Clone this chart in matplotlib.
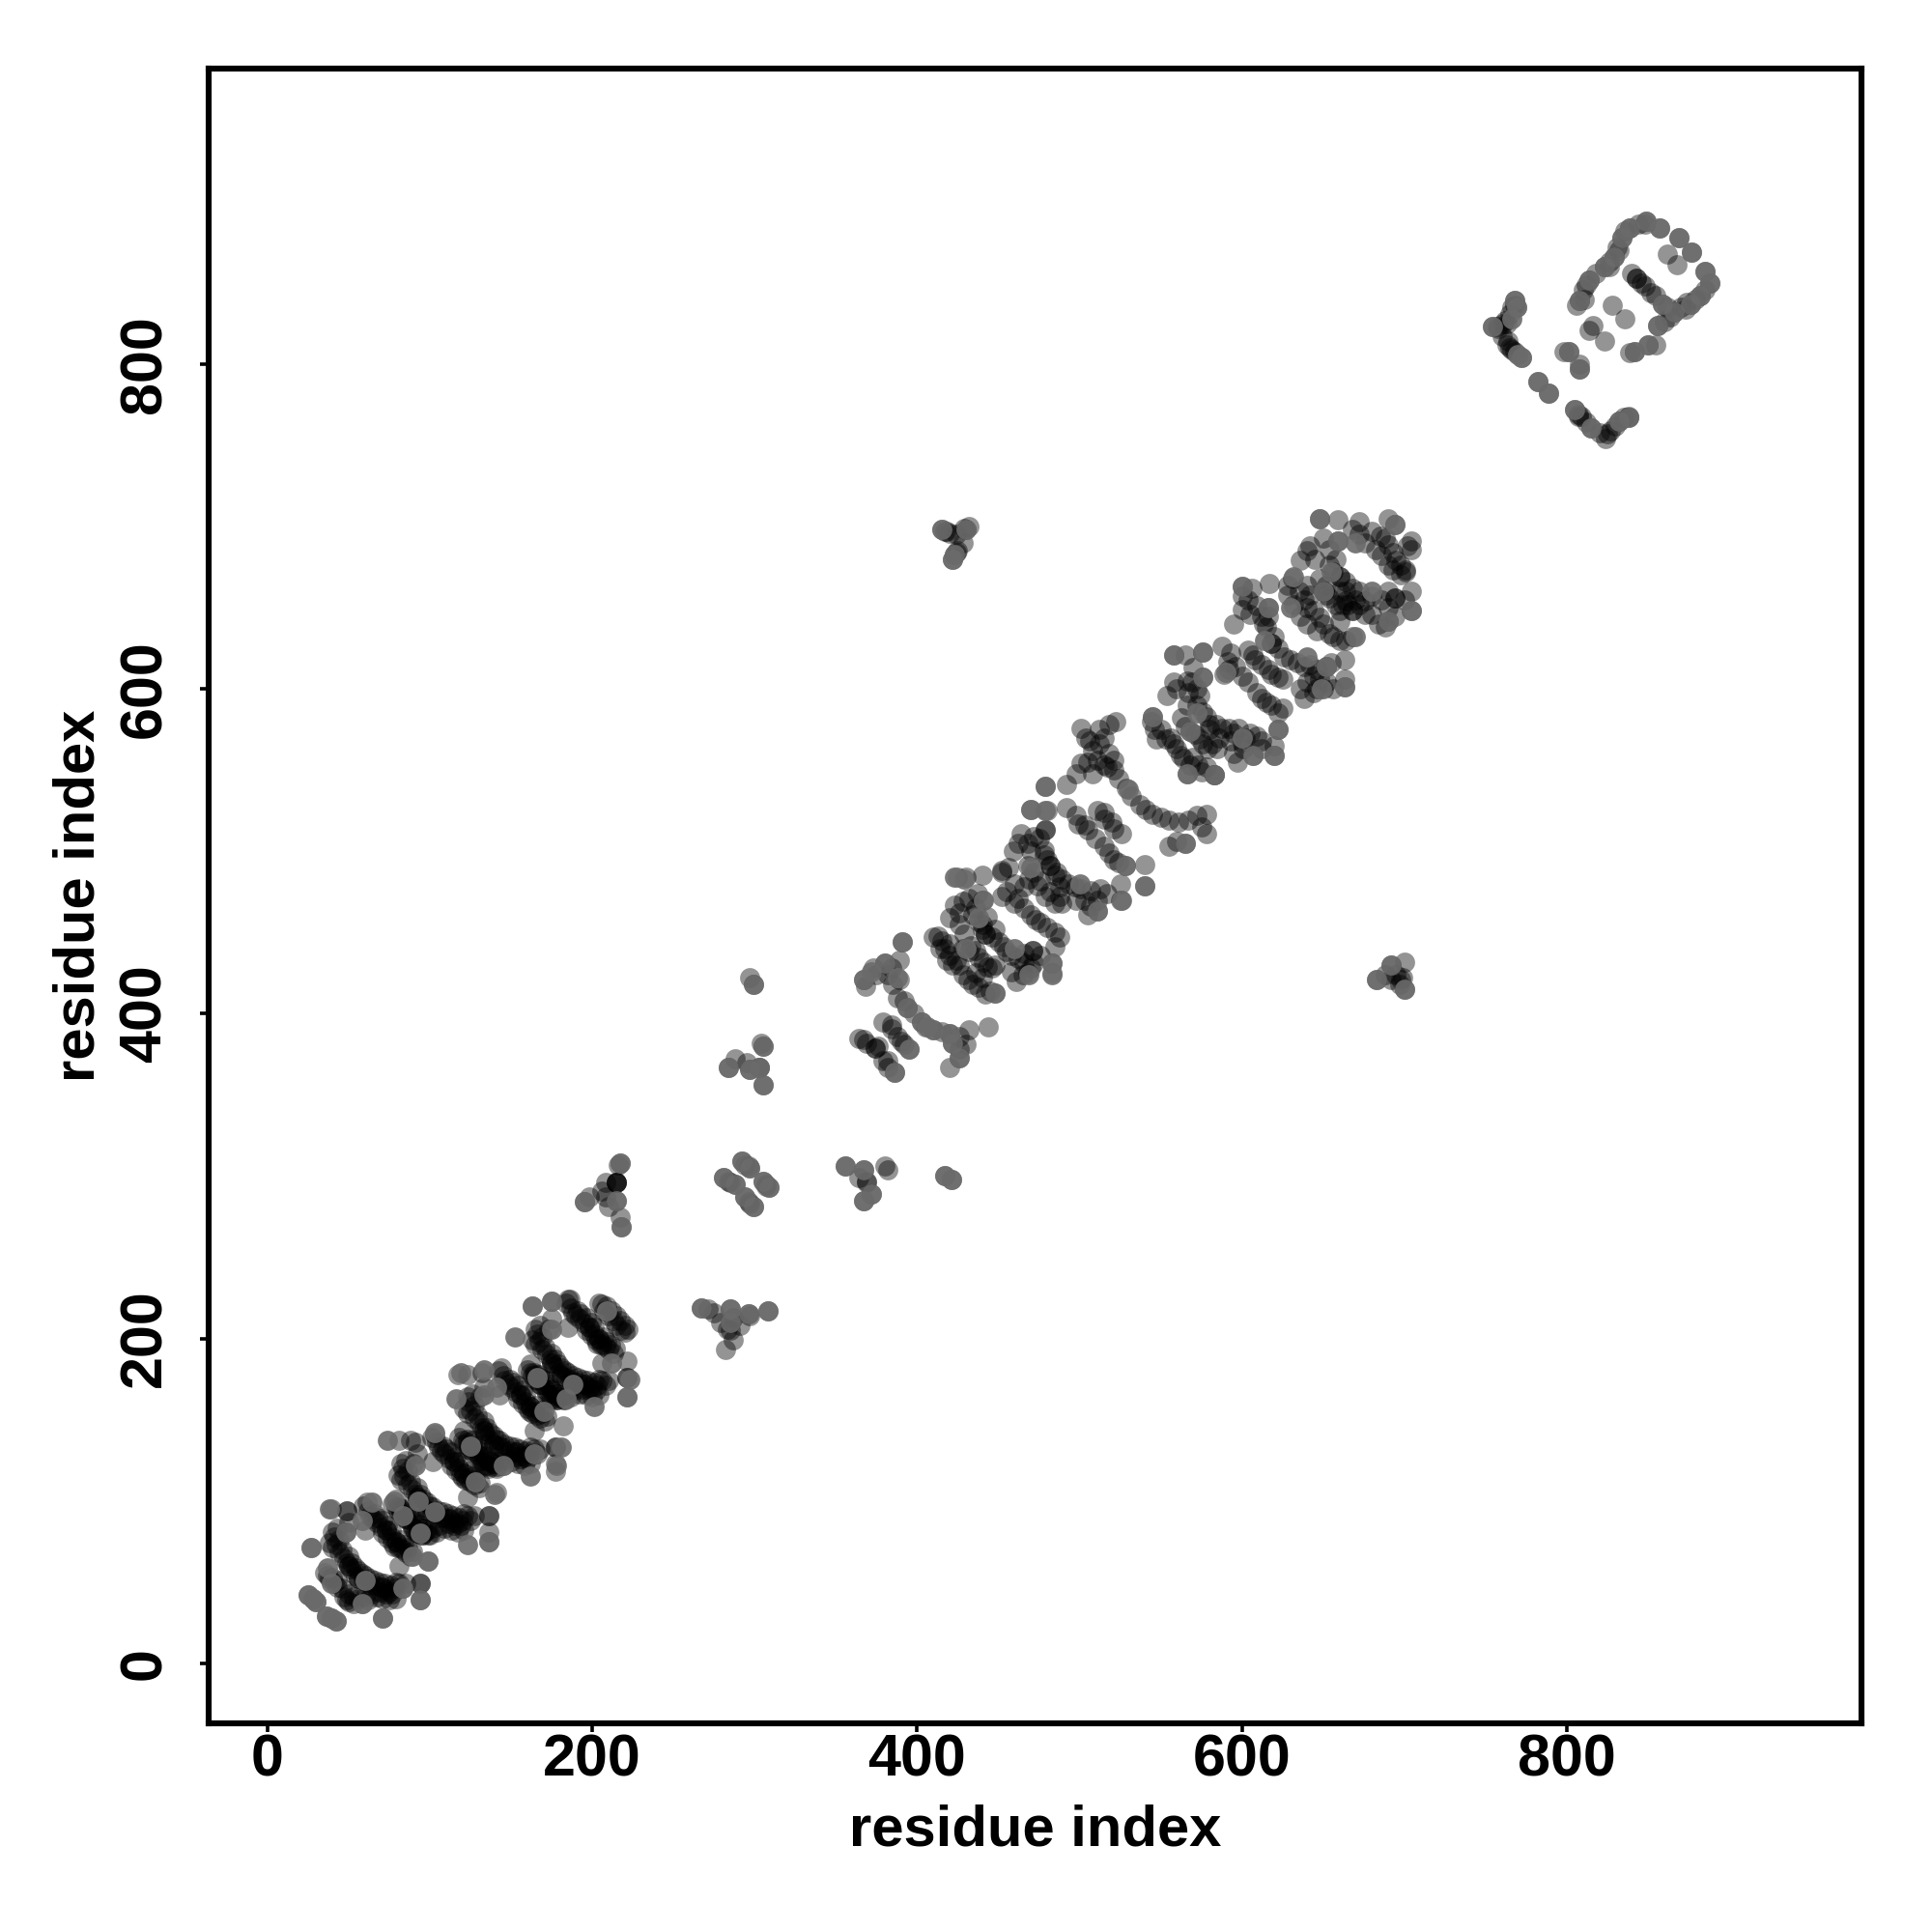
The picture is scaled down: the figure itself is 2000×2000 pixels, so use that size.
import numpy as np
import matplotlib
matplotlib.use("Agg")
import matplotlib.pyplot as plt

plt.rcParams['font.family'] = ['Liberation Sans', 'DejaVu Sans']

ticks = [0, 200, 400, 600, 800]

# lower helix, four turns
turn1 = [(39,95),(49,94),(49,94),(40,81),(43,83),(48,81),(38,74),(40,71),(42,73),(46,70),(47,65),(49,62),(50,60),(51,58),
         (54,54),(56,52),(59,51),(61,50),(63,48),(66,48),(70,47),(73,45),(75,44),(78,46),(81,49),(83,46),
         (35,56),(37,54),(38,52),(41,49),(43,47),(47,41),(49,39),(50,38),(53,37),(58,37),(62,39),(67,41),(71,40),(75,39),(79,40),
         (59,97),(61,99),(63,91),(65,89),(67,87),(70,84),(73,82),(76,78),(79,75),(81,72),(83,70),(85,68),(88,66),
         (79,101),(81,96),(82,92),(85,89),(88,86),(90,83),(93,80),(95,79),
         (99,79),(99,63),(94,49),(94,49),(94,39),(81,60),(60,82),(50,87),
         (27,71),(71,28),(25,42),(28,40),(30,38),(36,29),(39,28),(42,26)]
turn1b = [(41,78),(44,76),(44,68),(50,66),(52,62),(54,59),(56,57),(58,55),(60,54),(63,52),(66,51),(69,50),(72,49),(76,48),(79,50),(85,49),
          (40,53),(43,51),(46,46),(50,43),(53,41),(56,40),(60,41),(64,43),(69,44),(73,43),(77,43),
          (62,94),(66,92),(68,90),(71,88),(74,85),(76,82),(78,72),(82,76),(84,73),(86,71),(89,69),(71,80),(74,77),(77,74),(80,71),
          (84,95),(87,92),(90,89),(92,86),(95,83),(97,81),(73,82),(79,75),(56,52),(50,60),(70,47)]
turn2 = [(81,137),(88,137),(91,136),(82,123),(85,125),(90,123),(80,116),(82,113),(84,115),(88,112),(89,107),(91,104),(92,102),(93,100),
         (96,96),(98,94),(101,93),(103,92),(105,90),(108,90),(112,89),(115,87),(117,86),(120,88),(123,91),(125,88),
         (77,98),(79,96),(80,94),(83,91),(85,89),(89,83),(91,81),(92,80),(95,79),(100,79),(104,81),(109,83),(113,82),(117,81),(121,82),
         (101,139),(103,141),(105,133),(107,131),(109,129),(112,126),(115,124),(118,120),(121,117),(123,114),(125,112),(127,110),(130,108),
         (121,143),(123,138),(124,134),(127,131),(130,128),(132,125),(135,122),(137,121),
         (141,121),(141,105),(136,91),(136,91),(136,81),(136,75),(123,102),(102,124),(92,129)]
turn2b = [(83,120),(86,118),(86,110),(92,108),(94,104),(96,101),(98,99),(100,97),(102,96),(105,94),(108,93),(111,92),(114,91),(118,90),(121,92),(127,91),
          (82,95),(85,93),(88,88),(92,85),(95,83),(98,82),(102,83),(106,85),(111,86),(115,85),(119,85),
          (104,136),(108,134),(110,132),(113,130),(116,127),(118,124),(120,114),(124,118),(126,115),(128,113),(131,111),(113,122),(116,119),(119,116),(122,113),
          (126,137),(129,134),(132,131),(134,128),(137,125),(139,123),(115,124),(121,117),(98,94),(92,102),(112,89)]
turn3 = [(117,178),(123,178),(132,179),(123,164),(126,166),(131,164),(121,157),(123,154),(125,156),(129,153),(130,148),(132,145),(133,143),(134,141),
         (137,137),(139,135),(142,134),(144,133),(146,131),(149,131),(153,130),(156,128),(158,127),(161,129),(164,132),(166,129),
         (118,139),(120,137),(121,135),(124,132),(126,130),(130,124),(132,122),(133,121),(136,120),(141,120),(145,122),(150,124),(154,123),(158,122),(162,123),
         (142,180),(144,182),(146,174),(148,172),(150,170),(153,167),(156,165),(159,161),(162,158),(164,155),(166,153),(168,151),(171,149),
         (162,184),(164,179),(165,175),(168,172),(171,169),(173,166),(176,163),(178,162),
         (182,162),(182,146),(177,133),(177,133),(177,123),(177,118),(164,143),(143,165),(133,170)]
turn3b = [(124,161),(127,159),(127,151),(133,149),(135,145),(137,142),(139,140),(141,138),(143,137),(146,135),(149,134),(152,133),(155,132),(159,131),(162,133),(168,132),
          (123,136),(126,134),(129,129),(133,126),(136,124),(139,123),(143,124),(147,126),(152,127),(156,126),(160,126),
          (145,177),(149,175),(151,173),(154,171),(157,168),(159,165),(161,155),(165,159),(167,156),(169,154),(172,152),(154,163),(157,160),(160,157),(163,154),
          (167,178),(170,175),(173,172),(175,169),(178,166),(180,164),(156,165),(162,158),(139,135),(133,143),(153,130)]
turn4 = [(163,220),(175,223),(185,224),(165,206),(168,208),(173,206),(163,199),(165,196),(167,198),(171,195),(172,190),(174,187),(175,185),(176,183),
         (179,179),(181,177),(184,176),(186,175),(188,173),(191,173),(195,172),(198,170),(200,169),(203,171),(206,174),(208,171),
         (160,181),(162,179),(163,177),(166,174),(168,172),(172,166),(174,164),(175,163),(178,162),(183,162),(187,164),(192,166),(196,165),(200,164),(204,165),
         (184,222),(186,224),(188,216),(190,214),(192,212),(195,209),(198,207),(201,203),(204,200),(206,197),(208,195),(210,193),(213,191),
         (204,222),(206,221),(207,217),(210,214),(213,211),(215,208),(218,205),(220,204),
         (221,186),(221,176),(221,176),(221,164),(206,185),(185,207),(175,212)]
turn4b = [(166,203),(169,201),(169,193),(175,191),(177,187),(179,184),(181,182),(183,180),(185,179),(188,177),(191,176),(194,175),(197,174),(201,173),(204,175),(210,174),
          (165,178),(168,176),(171,171),(175,168),(178,166),(181,165),(185,166),(189,168),(194,169),(198,168),(202,168),
          (187,219),(191,217),(193,215),(196,213),(199,210),(201,207),(203,197),(207,201),(209,198),(211,196),(214,194),(196,205),(199,202),(202,199),(205,196),
          (209,220),(212,217),(215,214),(217,211),(220,208),(222,206),(198,207),(204,200),(181,177),(175,185),(195,172)]

# small contact patches between the helices
patch_a = [(297,422),(299,418),(304,382),(305,380),(284,367),(288,372),(295,370),(297,366),(303,367),(303,367),(305,356)]
patch_b = [(217,308),(216,307),(215,296),(215,296),(215,296),(215,296),(208,296),(198,287),(195,284),(208,287),(215,285),(217,275),(218,269),(210,281),(206,291)]
patch_c = [(292,309),(294,307),(297,305),(281,299),(284,297),(288,295),(305,297),(307,295),(309,293),(294,287),(297,283),(299,281),(285,296),(296,306),(307,294),(296,284)]
patch_d = [(356,306),(367,304),(380,306),(382,304),(369,296),(369,297),(372,289),(367,285),(364,299),(417,300),(421,298)]
patch_e = [(267,219),(271,218),(275,216),(285,218),(285,210),(296,215),(308,217),(297,214),(287,199),(282,193),(279,210),(291,208),(283,206),(287,213),(285,205)]
patch_f = [(415,698),(417,697),(420,696),(424,695),(430,698),(432,700),(428,690),(425,685),(422,680),(423,683),(418,697),(429,699),(424,684)]
patch_g = [(683,421),(688,424),(692,430),(700,432),(698,421),(700,415),(692,421),(697,418),(695,424),(699,422)]

# middle helix
mid_a = [(367,421),(373,428),(380,431),(389,433),(391,444),(382,424),(389,421),(388,410),(394,404),(403,395),(410,390),(420,388),(432,390),(444,392),
         (430,381),(426,373),(420,367),(422,382),
         (364,385),(369,382),(374,379),(374,379),(379,371),(382,367),(386,364),(379,395),(384,391),(390,383),(395,378),
         (376,380),(367,384),(382,371),(384,393),(388,386),(392,381),(368,417),(385,418),(392,408),(398,400),(405,392),(415,389),(426,386),(426,378),(375,424),(384,428)]
mid_b = [(425,484),(430,484),(440,485),(452,488),(413,448),(410,447),(414,440),(418,433),(424,433),(428,424),(434,418),(448,413),(442,412),
         (433,442),(438,435),(443,429),(448,430),(429,449),(420,459),(423,467),(432,471),(440,470),(434,461),(438,457),(442,449),(442,449),(450,444),
         (455,438),(462,434),(471,439),(471,439),(470,428),(461,420),(468,425),(485,441),(483,431),(483,425),
         (415,445),(420,436),(426,430),(431,421),(438,416),(445,414),(436,439),(441,432),(446,428),(426,455),(426,462),(428,469),(436,465),(440,455),(440,452),
         (446,447),(453,441),(458,436),(466,431),(466,437),(476,436),(465,424),(420,443),(428,440),(432,438),(436,425),(440,422),(472,431),(458,426),(448,452),(443,460),(437,474),(417,440),(422,430)]
mid_c = [(470,526),(480,525),(479,540),(492,541),(479,513),(479,513),(464,511),(459,500),(472,509),(478,501),(482,491),(482,491),(489,483),(501,477),(513,477),
         (505,461),(511,463),(525,480),(525,470),(452,487),(468,491),(469,483),(474,479),(479,472),(485,468),(489,468),
         (452,472),(462,471),(470,461),(476,456),(485,450),(492,527),(499,517),(505,513),(515,503),(521,495),(528,491),(540,492),(540,479),
         (511,525),(526,511),(515,524),(521,514),
         (468,505),(462,505),(470,500),(475,508),(480,495),(486,487),(493,480),(497,478),(507,476),(507,466),(511,470),(517,474),(456,490),(472,487),(476,482),(482,475),(488,472),
         (455,475),(460,468),(466,465),(473,458),(480,453),(488,447),(498,522),(503,516),(510,508),(518,499),(524,493),(515,520),(520,518),(478,498),(485,485),(498,470),(503,470),(488,478),(460,480),(466,478)]
mid_d = [(501,576),(504,570),(518,578),(522,580),(508,562),(515,553),(521,550),(529,539),(537,529),(545,523),(555,519),(567,519),(578,523),(578,511),(555,503),(565,505),
         (501,554),(511,556),(517,552),(521,556),(498,548),(508,548),
         (506,568),(512,566),(518,560),(524,545),(532,534),(541,526),(550,521),(561,518),(572,522),(575,515),(560,506),(505,555),(512,575),(515,570)]

# upper helix
up_a = [(545,583),(544,580),(546,575),(547,569),(553,569),(558,566),(564,557),(568,553),(566,548),(575,549),(583,547),(583,547),
        (563,582),(568,574),(574,569),(579,563),(585,563),(554,596),(558,604),(570,613),(576,607),(565,621),(558,621),(576,623),
        (567,598),(574,596),(576,586),(584,578),(595,573),(605,573),(609,571),(622,575),(620,565),(620,559),(607,559),(597,555),
        (588,626),(591,617),(600,608),(609,598),(615,592),(625,588),(589,609),(604,624),(608,618),(618,609),(625,606),
        (550,575),(556,570),(560,563),(562,559),(570,558),(573,553),(578,552),(565,577),(571,572),(576,566),(582,566),(569,604),(572,600),(560,600),(566,605),(572,590),(578,583),(580,578),
        (588,576),(592,576),(598,576),(602,570),(612,568),(612,563),(601,563),(595,560),(593,622),(596,614),(604,604),(612,594),(618,590),(622,585),(607,621),(612,615),(616,612),(622,607),
        (592,612),(566,590),(580,575),(600,567),(586,570),(593,568)]
up_b = [(600,663),(606,662),(617,665),(600,649),(595,640),(609,651),(616,650),(615,638),(618,628),(618,628),(626,620),(638,614),(652,614),(650,600),(638,594),
        (663,618),(663,606),(663,601),(631,668),(628,664),(632,652),(640,650),(648,644),(654,634),(660,630),(668,632),(650,660),(652,658),(660,648),(668,648),
        (604,655),(612,645),(613,640),(620,632),(622,625),(630,618),(634,616),(642,615),(646,612),(655,616),(648,606),(644,598),(656,600),(635,660),(638,655),(644,648),(650,640),(656,632),
        (664,630),(628,658),(646,600),(652,604),(605,646),(600,657),(616,645),(636,600),(640,604),(644,608),(660,642),(665,652),(636,645),(640,640),(646,636),(640,664),(642,658)]
up_c = [(648,705),(659,704),(672,703),(690,705),(694,701),(704,691),(701,673),(704,660),(704,648),(694,656),(684,640),(690,642),
        (640,685),(636,679),(650,693),(659,691),(658,680),(660,669),(660,669),(668,662),(680,657),(694,656),(648,668),(651,660),(658,652),(668,648),
        (680,697),(690,689),(695,679),(701,672),(693,673),
        (645,680),(642,688),(654,686),(654,676),(656,672),(664,666),(664,660),(672,660),(676,654),(686,655),(690,650),(680,646),(694,645),(688,638),(652,664),(654,656),(662,652),(672,652),(676,646),
        (685,694),(688,693),(693,684),(698,676),(698,670),(704,686),(702,688),(668,698),(672,695),(676,690),(682,686),(686,682),(690,676),(660,660),(664,654),(670,655),(700,655),(690,660)]

# top right corner
top_a = [(768,839),(769,835),(765,831),(761,825),(754,823),(758,822),(763,812),(768,808),(772,804),(760,817),(764,814),
         (798,808),(801,808),(808,800),(808,797),(782,789),(789,782),
         (805,772),(809,768),(815,761),(825,757),(824,754),(827,759),(832,765),(838,767),(807,768),(838,768),
         (762,827),(757,823),(765,810),(766,835),(812,764),(820,758),(830,762),(835,767),(807,769),(768,836),(766,809),(763,825)]
top_b = [(808,839),(810,846),(814,852),(823,860),(829,866),(834,878),(839,884),(849,888),(857,884),(843,853),(843,853),(840,856),(852,844),(859,837),(866,832),
         (876,837),(882,842),(888,850),(885,857),(877,869),(869,878),(862,868),(868,861),
         (828,836),(836,828),(816,824),(814,821),(823,814),(839,807),(842,808),(850,812),(855,812),(856,824),(860,826),(864,829),
         (812,849),(818,856),(826,863),(831,872),(836,882),(844,886),(846,850),(848,848),(855,842),(862,835),(870,835),(873,834),(879,840),(885,846),(832,870),(806,836),(811,840),(848,886),(874,838),(826,860)]

# weaker contacts, the lighter dots that sit on top of the dark ones
light_low = [(48,81),(38,95),(94,39),(99,63),(94,80),(83,46),(58,37),(37,59),(78,100),(64,99),(91,122),(74,137),(103,142),(140,104),
             (136,75),(123,73),(164,129),(133,165),(116,163),(119,179),(133,181),(175,206),(175,223),(163,220),(201,158),(223,175),(221,164),
             (162,115),(178,122),(181,133),(209,217),(152,201),(27,71),(71,28),(25,42),(28,40),(30,38),(36,29),(39,28),(42,26),
             (83,91),(39,49),(93,100),(166,176),(125,134),(184,163),(128,112),(89,66),(170,155),(212,185),(145,122),(103,93),(60,51),(188,172),(58,88),(141,170)]
light_mid = [(441,470),(438,459),(448,413),(469,424),(483,431),(483,424),(511,463),(526,470),(540,479),(528,491),(479,525),(470,526),(479,540),
             (394,404),(388,422),(372,426),(386,364),(395,378),(422,382),(406,392),(420,388),(426,373),(530,538),(565,505),(429,483),(423,484),
             (391,444),(380,431),(403,395),(410,390),(367,421),(460,440),(500,480),(430,440),(470,490)]
light_up = [(576,607),(583,547),(566,548),(622,575),(620,559),(607,559),(652,614),(649,600),(663,601),(616,650),(600,663),(704,648),(659,691),
            (648,705),(694,701),(632,669),(558,621),(576,623),(545,583),(670,632),(690,642),(568,574),(650,660),
            (600,570),(640,620),(680,660),(572,585),(614,630),(655,672),(590,610),(630,650),(670,690)]
light_top = [(808,839),(814,852),(823,860),(829,866),(834,878),(839,884),(849,888),(857,884),(869,878),(877,869),(885,857),(888,850),(882,842),
             (876,837),(866,832),(859,837),(856,824),(850,812),(842,808),(768,839),(769,835),(766,828),(772,804),(770,806),(838,767),(832,765),
             (805,772),(815,761),(754,823),(801,808),(808,797),(782,789),(789,782)]
light_patch = [(292,309),(297,305),(281,299),(288,295),(305,297),(309,293),(294,287),(299,281),(299,418),(305,380),(305,356),(297,366),(284,367),(303,367),
               (217,308),(218,269),(215,285),(195,284),(356,306),(367,304),(372,289),(367,285),(267,219),(308,217),(296,215),(285,210),
               (415,698),(430,698),(423,683),(422,680),(683,421),(692,430),(700,415),(417,300),(421,298),(285,218)]

groups = [turn1, turn1b, turn2, turn2b, turn3, turn3b, turn4, turn4b,
          patch_a, patch_b, patch_c, patch_d, patch_e, patch_f, patch_g,
          mid_a, mid_b, mid_c, mid_d, up_a, up_b, up_c, top_a, top_b]
pts = np.array([p for g in groups for p in g])
light = np.array(light_low + light_mid + light_up + light_top + light_patch)

fig = plt.figure(figsize=(10, 10), dpi=200)
ax = fig.add_axes([216/2000, 216/2000, 1711/2000, 1713/2000])
ax.scatter(pts[:, 0], pts[:, 1], s=56, color='black', alpha=0.42, linewidths=0)
ax.scatter(light[:, 0], light[:, 1], s=56, color='0.42', alpha=0.9, linewidths=0)

ax.set_xlim(-36.3, 981.5)
ax.set_ylim(-37, 982)
ax.set_xticks(ticks)
ax.set_yticks(ticks)
ax.tick_params(length=3.2, width=1.3)
ax.tick_params(axis='x', pad=0.5)
ax.tick_params(axis='y', pad=10)
for lab in ax.get_xticklabels():
    lab.set_fontsize(22)
    lab.set_fontweight('bold')
for lab in ax.get_yticklabels():
    lab.set_fontsize(22)
    lab.set_fontweight('bold')
    lab.set_rotation(90)
    lab.set_va('center')
for s in ax.spines.values():
    s.set_linewidth(2.2)
ax.set_xlabel("residue index", fontsize=21.5, fontweight='bold', labelpad=5.7)
ax.set_ylabel("residue index", fontsize=21.5, fontweight='bold', labelpad=4.5)

fig.savefig("out.png", dpi=200)
